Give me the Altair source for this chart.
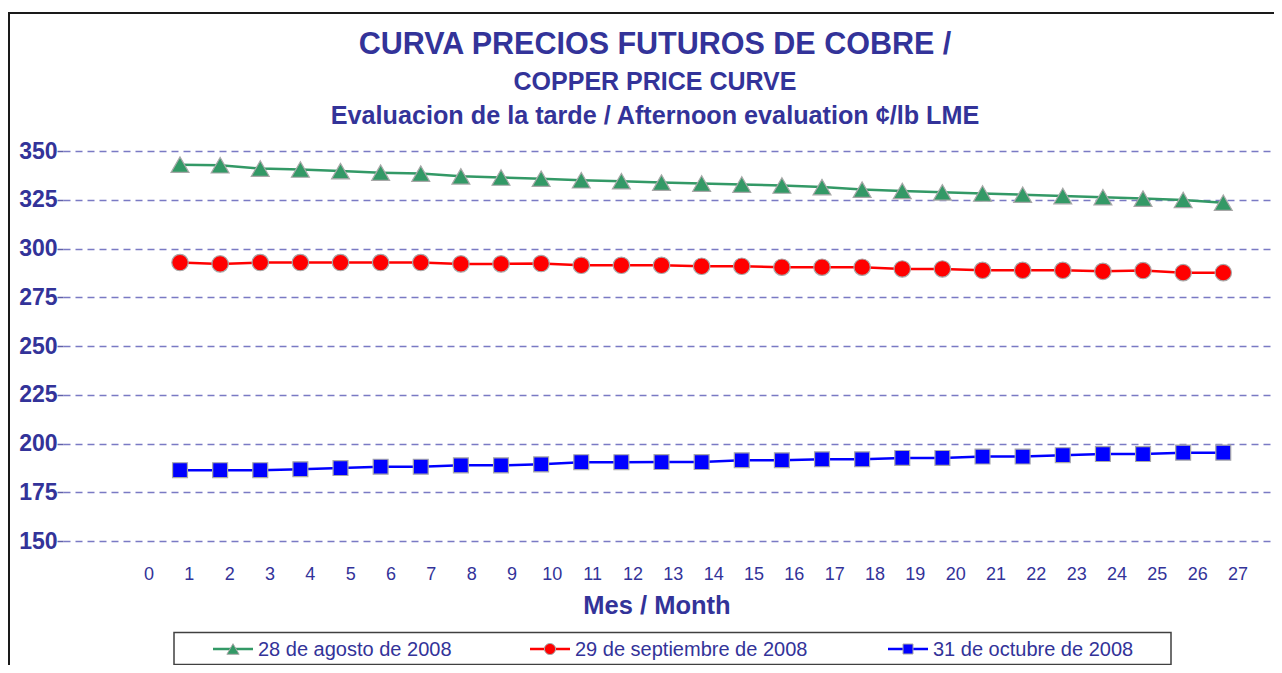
import altair as alt
import pandas as pd

# ---------------- data ----------------
months = list(range(1, 28))
series_names = ["28 de agosto de 2008", "29 de septiembre de 2008", "31 de octubre de 2008"]
agosto = [343.0, 342.7, 341.0, 340.5, 339.7, 338.9, 338.4, 337.0, 336.4, 335.8, 335.0, 334.5,
          333.8, 333.3, 332.8, 332.3, 331.5, 330.2, 329.5, 328.8, 328.2, 327.6, 326.9, 326.3,
          325.6, 324.9, 323.5]
septiembre = [292.8, 292.1, 292.8, 292.8, 292.8, 292.8, 292.8, 292.1, 292.1, 292.3, 291.4, 291.4,
              291.4, 290.9, 290.9, 290.4, 290.4, 290.4, 289.5, 289.5, 288.8, 288.8, 288.8, 288.3,
              288.7, 287.6, 287.6]
octubre = [186.3, 186.3, 186.3, 186.8, 187.4, 188.1, 188.1, 188.8, 188.8, 189.3, 190.4, 190.4,
           190.5, 190.5, 191.4, 191.4, 191.9, 191.9, 192.6, 192.6, 193.3, 193.3, 194.0, 194.6,
           194.6, 195.3, 195.3]
x_tick_labels = list(range(0, 28))
y_ticks = [150, 175, 200, 225, 250, 275, 300, 325, 350]

title_1 = "CURVA PRECIOS FUTUROS DE COBRE /"
title_2 = "COPPER PRICE CURVE"
title_3 = "Evaluacion de la tarde / Afternoon evaluation ¢/lb LME"
x_title = "Mes / Month"

# ---------------- styling ----------------
colors = ["#339966", "#ff0000", "#0000ff"]
shapes = ["triangle-up", "circle", "square"]
line_widths = [2.5, 2.5, 1.3]
marker_sizes = [320, 222, 279]
legend_marker_sizes = [150, 100, 110]
legend_x = [170, 487, 845]
TEXT = "#333399"
FONT = "Liberation Sans"

rows = []
for name, vals in zip(series_names, [agosto, septiembre, octubre]):
    for m, v in zip(months, vals):
        rows.append({"series": name, "month": m, "price": v})
df = pd.DataFrame(rows)

color_enc = alt.Color("series:N", scale=alt.Scale(domain=series_names, range=colors), legend=None)
shape_enc = alt.Shape("series:N", scale=alt.Scale(domain=series_names, range=shapes), legend=None)
sw_enc = alt.StrokeWidth("series:N", scale=alt.Scale(domain=series_names, range=line_widths), legend=None)

x_data = alt.X("month:Q", scale=alt.Scale(domain=[-1.916, 28.264], nice=False, zero=False), axis=None)
y_data = alt.Y("price:Q",
               scale=alt.Scale(domain=[150, 350], nice=False, zero=False),
               axis=alt.Axis(values=y_ticks, title=None, domain=False, grid=True,
                             gridDash=[7, 5], gridColor="#7a7ac4", gridWidth=1.5,
                             tickSize=6, tickColor="#6060a8", tickWidth=1.5,
                             labelPadding=0, labelFont=FONT, labelFontWeight="bold",
                             labelFontSize=23, labelColor=TEXT))

base = alt.Chart(df)
lines = base.mark_line().encode(x=x_data, y=y_data, color=color_enc, strokeWidth=sw_enc)
points = base.mark_point(filled=True, opacity=1, stroke="#a8a8a8", strokeWidth=1.2).encode(
    x=x_data, y=y_data, color=color_enc, shape=shape_enc,
    size=alt.Size("series:N", scale=alt.Scale(domain=series_names, range=marker_sizes), legend=None))

# x tick labels
xl_df = pd.DataFrame({"label": x_tick_labels})
xlabels = alt.Chart(xl_df).mark_text(font=FONT, fontSize=18, color=TEXT, baseline="middle").encode(
    x=alt.X("label:Q", scale=alt.Scale(domain=[-2.132, 27.893], nice=False, zero=False), axis=None),
    y=alt.value(424), text="label:Q")

def text_layer(t, x, y, size, weight="bold"):
    return alt.Chart(pd.DataFrame({"t": [t]})).mark_text(
        font=FONT, fontSize=size, fontWeight=weight, color=TEXT, baseline="alphabetic", align="center"
    ).encode(text="t:N", x=alt.value(x), y=alt.value(y))

t1 = text_layer(title_1, 592, -97.5, 30.5)
t2 = text_layer(title_2, 592, -61, 25)
t3 = text_layer(title_3, 592, -27.5, 25.2)
xt = text_layer(x_title, 594, 463, 25.5)

# frame
frame = alt.Chart(pd.DataFrame({"a": [0]})).mark_rect(fill="white", fillOpacity=0, stroke="#1a1a1a", strokeWidth=2).encode(
    x=alt.value(-54), x2=alt.value(1400), y=alt.value(-138), y2=alt.value(800))

# legend
leg_df = pd.DataFrame({"series": series_names, "lx": legend_x})
leg_box = alt.Chart(pd.DataFrame({"a": [0]})).mark_rect(fill="white", stroke="#404040", strokeWidth=1.5).encode(
    x=alt.value(111), x2=alt.value(1108), y=alt.value(481.5), y2=alt.value(513.5))
leg_lines = alt.Chart(leg_df).mark_point(shape="M-1,0L1,0", filled=False, size=1600, opacity=1).encode(
    x=alt.X("lx:Q", scale=None), y=alt.value(498), color=color_enc, strokeWidth=sw_enc)
leg_pts = alt.Chart(leg_df).mark_point(filled=True, opacity=1, stroke="#a8a8a8", strokeWidth=1).encode(
    x=alt.X("lx:Q", scale=None), y=alt.value(498), color=color_enc, shape=shape_enc,
    size=alt.Size("series:N", scale=alt.Scale(domain=series_names, range=legend_marker_sizes), legend=None))
leg_text = alt.Chart(leg_df).mark_text(align="left", dx=25, font=FONT, fontSize=20, color=TEXT,
                                       baseline="middle").encode(
    x=alt.X("lx:Q", scale=None), y=alt.value(499), text="series:N")

chart = alt.layer(
    frame, lines, points, xlabels, t1, t2, t3, xt, leg_box, leg_lines, leg_pts, leg_text
).resolve_scale(x="independent", size="independent").properties(
    width=1211, height=390,
    autosize=alt.AutoSizeParams(type="none"),
    padding={"left": 55, "top": 143, "right": 0, "bottom": 124},
    background="white",
).configure_view(stroke=None)

chart.save("out.html", embed_options={"renderer": "svg", "actions": False})
